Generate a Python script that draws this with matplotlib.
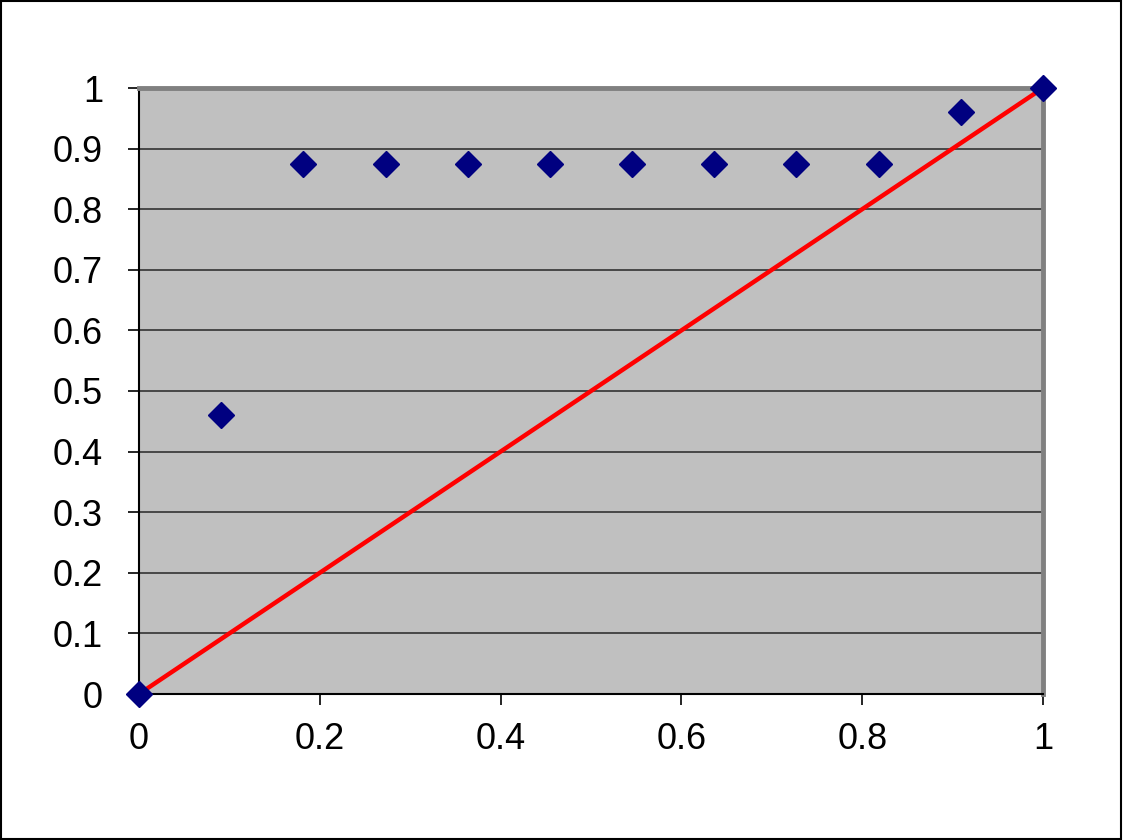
import matplotlib
matplotlib.use("Agg")
import matplotlib.pyplot as plt
from matplotlib.patches import Rectangle

# Data
x_points = [0, 1/11, 2/11, 3/11, 4/11, 5/11, 6/11, 7/11, 8/11, 9/11, 10/11, 1]
y_points = [0, 0.46, 0.875, 0.875, 0.875, 0.875, 0.875, 0.875, 0.875, 0.875, 0.96, 1]
line_x = [0, 1]
line_y = [0, 1]
x_ticks = [0, 0.2, 0.4, 0.6, 0.8, 1]
x_tick_labels = ["0", "0.2", "0.4", "0.6", "0.8", "1"]
y_ticks = [0, 0.1, 0.2, 0.3, 0.4, 0.5, 0.6, 0.7, 0.8, 0.9, 1]
y_tick_labels = ["0", "0.1", "0.2", "0.3", "0.4", "0.5", "0.6", "0.7", "0.8", "0.9", "1"]

plt.rcParams['font.family'] = ['Liberation Sans', 'DejaVu Sans']

fig = plt.figure(figsize=(11.23, 8.4), dpi=100)
fig.patch.set_facecolor('white')
fig.patches.append(Rectangle((0.0005, 0.0008), 0.998, 0.998, transform=fig.transFigure,
                             fill=False, edgecolor='black', linewidth=1.5, zorder=10))

ax = fig.add_axes([139/1123, 1 - 694/840, (1043 - 139)/1123, (694 - 88)/840])
ax.set_facecolor('#C0C0C0')

for yv in y_ticks[1:]:
    ax.axhline(yv, color='#333333', linewidth=1.2, zorder=1)

ax.plot(line_x, line_y, color='#FF0000', linewidth=3.2, zorder=3, clip_on=False)
ax.plot(x_points, y_points, linestyle='none', marker='D', markersize=13.5,
        markerfacecolor='#000080', markeredgecolor='#000080', markeredgewidth=1,
        zorder=4, clip_on=False)

ax.set_xlim(0, 1)
ax.set_ylim(0, 1)
ax.set_xticks(x_ticks)
ax.set_xticklabels(x_tick_labels)
ax.set_yticks(y_ticks)
ax.set_yticklabels(y_tick_labels)

ax.tick_params(axis='both', direction='out', length=8, width=1.2, color='black',
               labelsize=26, labelcolor='black')
ax.tick_params(axis='y', pad=18)
ax.tick_params(axis='x', pad=12)

ax.spines['left'].set_color('black')
ax.spines['left'].set_linewidth(1.5)
ax.spines['bottom'].set_color('black')
ax.spines['bottom'].set_linewidth(1.5)
ax.spines['top'].set_color('#808080')
ax.spines['top'].set_linewidth(3.5)
ax.spines['right'].set_color('#808080')
ax.spines['right'].set_linewidth(3.5)
for s in ax.spines.values():
    s.set_zorder(2.5)

fig.savefig('out.png', dpi=100)
